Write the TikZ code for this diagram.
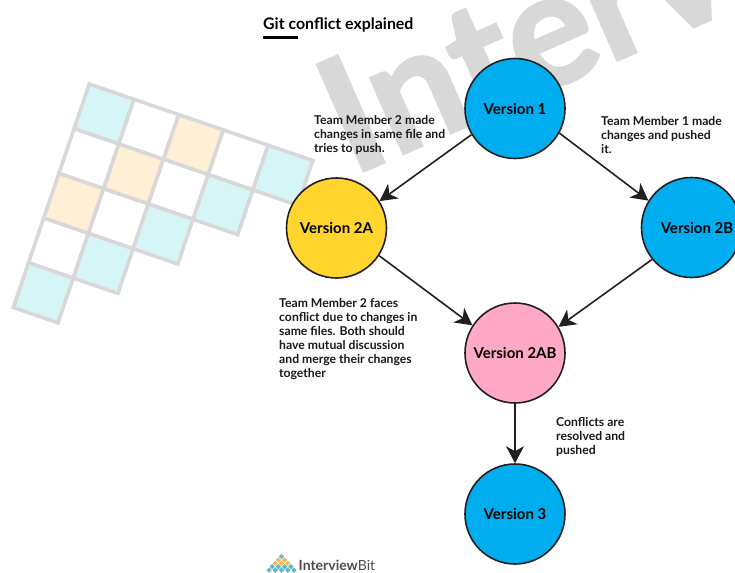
\documentclass[tikz,border=0pt]{standalone}
\usepackage{fontspec}
\setmainfont{Lato}
\newfontfamily\wmfont[RawFeature={embolden=2}]{Lato Bold}
\usetikzlibrary{arrows.meta}
\definecolor{ink}{HTML}{231F20}
\definecolor{wmgray}{HTML}{D8D8D8}
\definecolor{vblue}{HTML}{00AEEF}
\definecolor{vyellow}{HTML}{FFD52E}
\definecolor{vpink}{HTML}{FFA9C6}
\definecolor{gcyan}{HTML}{D6F5F7}
\definecolor{gcream}{HTML}{FEEFD6}
\definecolor{lcyan}{HTML}{5FB9C6}
\definecolor{lorange}{HTML}{F5B85A}
\tikzset{
  version/.style={circle,draw=ink,line width=1.6pt,minimum size=100pt,inner sep=0pt,text=black,font=\fontsize{15}{17}\selectfont\bfseries},
  note/.style={anchor=north west,align=left,inner sep=0pt,text=black!90,font=\fontsize{12.2}{14}\selectfont\bfseries},
  flow/.style={draw=ink,line width=1.6pt,-{Stealth[length=17pt,width=18pt,inset=5pt]}},
  cell/.style={draw=wmgray,line width=3.6pt,line join=miter},
}
\begin{document}
\begin{tikzpicture}[x=1pt,y=-1pt]
\useasboundingbox (0,0) rectangle (735,572);
\begin{scope}
\clip (0,0) rectangle (735,572);
% watermark
\node[anchor=base west,inner sep=0pt,rotate=23.6,text=wmgray,font=\fontsize{160}{160}\wmfont] (wm) at (352,176) {Interv};
% grid
\foreach \i/\j/\c in {0/0/gcyan,1/0/white,2/0/gcream,3/0/white,4/0/gcyan,
  0/1/white,1/1/gcream,2/1/white,3/1/gcyan,
  0/2/gcream,1/2/white,2/2/gcyan,
  0/3/white,1/3/gcyan,
  0/4/gcyan}
  \draw[cell,fill=\c]
    ({89.3+44.7*\i-15.2*\j},{84+15.3*\i+44.7*\j}) --
    ({89.3+44.7*(\i+1)-15.2*\j},{84+15.3*(\i+1)+44.7*\j}) --
    ({89.3+44.7*(\i+1)-15.2*(\j+1)},{84+15.3*(\i+1)+44.7*(\j+1)}) --
    ({89.3+44.7*\i-15.2*(\j+1)},{84+15.3*\i+44.7*(\j+1)}) -- cycle;
\end{scope}
% title
\node[anchor=base west,inner sep=0pt,font=\fontsize{15.9}{18}\selectfont\bfseries] (title) at (263,30) {Git conflict explained};
\coordinate (ulA) at (263,38);
\coordinate (ulB) at (298,38);
\draw[line width=3pt,black] (ulA) -- (ulB);
% circles
\node[version,fill=vblue] (v1) at (515,108.5) {Version 1};
\node[version,fill=vyellow] (v2a) at (336.5,228) {Version 2A};
\node[version,fill=vblue] (v2b) at (691.5,227.5) {\hspace*{11pt}Version 2B};
\node[version,fill=vpink] (v2ab) at (515,353) {Version 2AB};
\node[version,fill=vblue] (v3) at (515,514) {Version 3};
% arrows
\draw[flow] (v1.211) -- (v2a.32);
\draw[flow] (v1.-29) -- (v2b.148);
\draw[flow] (v2a.-33) -- (v2ab.147);
\draw[flow] (v2b.219) -- (v2ab.31);
\draw[flow] (v2ab.-90) -- (v3.90);
% notes
\node[note] (n1) at (314,115.5) {Team Member 2 made\\changes in same file and\\tries to push.};
\node[note] (n2) at (601,116.5) {Team Member 1 made\\changes and pushed\\it.};
\node[note] (n3) at (279,298) {Team Member 2 faces\\conflict due to changes in\\same files. Both should\\have mutual discussion\\and merge their changes\\together};
\node[note] (n4) at (556,417.5) {Conflicts are\\resolved and\\pushed};
% logo
\foreach \r/\c in {0/lcyan,1/lorange,2/lorange,3/lcyan,4/lcyan}
  \foreach \k in {0,...,\r}
    \fill[\c] ({281.5+6.2*(\k-\r/2)},{556.5+3.4*\r-2.7}) -- ++(2.7,2.7) -- ++(-2.7,2.7) -- ++(-2.7,-2.7) -- cycle;
\node[anchor=base west,inner sep=0pt,text=black!70,font=\fontsize{14}{16}\selectfont] (logo) at (298.5,570) {\textbf{Interview}Bit};
\end{tikzpicture}
\end{document}
